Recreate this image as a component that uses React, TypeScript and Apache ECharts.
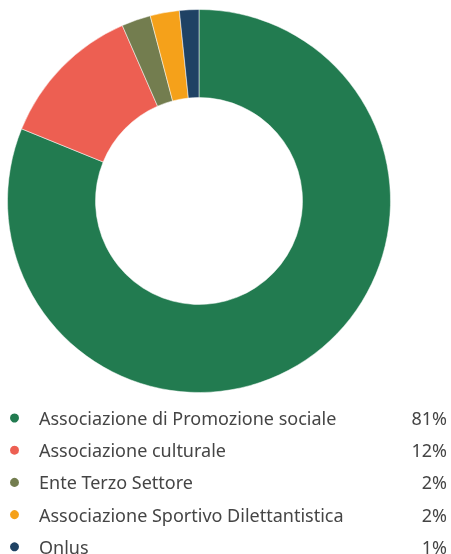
import React, { useEffect, useRef } from "react";
import * as echarts from "echarts";

const categories = [
  "Associazione di Promozione sociale",
  "Associazione culturale",
  "Ente Terzo Settore",
  "Associazione Sportivo Dilettantistica",
  "Onlus",
];
const values = [198, 30, 6, 6, 4];
const colors = ["#227b50", "#ed5f52", "#737d4f", "#f5a11a", "#1f4264"];

export default function App() {
  const ref = useRef<HTMLDivElement>(null);
  useEffect(() => {
    if (!ref.current) return;
    const chart = echarts.init(ref.current, undefined, { renderer: "svg" });
    const total = values.reduce((a, b) => a + b, 0);
    const pct: Record<string, number> = {};
    categories.forEach((c, i) => (pct[c] = Math.floor((values[i] / total) * 100)));
    const font = "Noto Sans";
    const fs = 18;
    chart.setOption({
      animation: false,
      color: colors,
      legend: {
        orient: "vertical",
        left: 8,
        top: 408,
        padding: 0,
        itemGap: 12.2,
        itemWidth: 11,
        itemHeight: 11,
        icon: "circle",
        selectedMode: false,
        textStyle: {
          fontFamily: font,
          fontSize: fs,
          lineHeight: 20,
          color: "#454545",
          rich: {
            n: { width: 340, fontSize: fs, color: "#454545", fontFamily: font, lineHeight: 20, padding: [0, 0, 0, 14] },
            p: { width: 68, align: "right", fontSize: fs, color: "#454545", fontFamily: font, lineHeight: 20 },
          },
        },
        formatter: (name: string) => `{n|${name}}{p|${pct[name]}%}`,
        data: categories,
      },
      series: [
        {
          type: "pie",
          center: [199, 201],
          radius: [103.5, 191.5],
          startAngle: 90,
          clockwise: true,
          label: { show: false },
          labelLine: { show: false },
          emphasis: { disabled: true },
          itemStyle: { borderColor: "#ffffff", borderWidth: 0.5 },
          data: categories.map((c, i) => ({ name: c, value: values[i] })),
        },
      ],
    });
    return () => chart.dispose();
  }, []);
  return (
    <div
      ref={ref}
      style={{ position: "fixed", left: 0, top: 0, width: 451, height: 600 }}
    />
  );
}
